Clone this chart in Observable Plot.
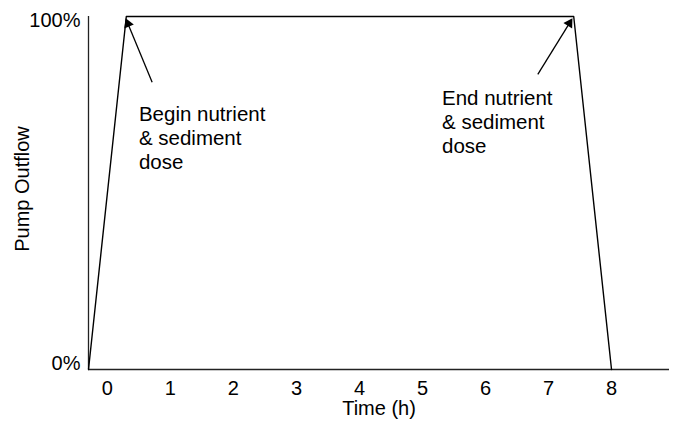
<!DOCTYPE html>
<html>
<head>
<meta charset="utf-8">
<script src="https://cdn.jsdelivr.net/npm/d3@7"></script>
<script src="https://cdn.jsdelivr.net/npm/@observablehq/plot@0.6"></script>
<style>
  html, body { margin: 0; padding: 0; background: #fff; }
  #chart { width: 675px; height: 432px; }
</style>
</head>
<body>
<div id="chart"></div>
<script>
// ---- data ----
const time = [-0.3, 0.3, 7.4, 8];          // hours
const outflow = [0, 100, 100, 0];          // % pump outflow
const xTicks = [0, 1, 2, 3, 4, 5, 6, 7, 8];
const yTicks = [0, 100];
const xDomain = [-0.3, 8.92];
const yDomain = [0, 100];

const noteText = ["Begin nutrient\n& sediment\ndose", "End nutrient\n& sediment\ndose"];
const noteX = [0.5, 5.31];
const noteY = [75.3, 79.9];
const arrowTailX = [0.71, 6.83];
const arrowTailY = [81.4, 83.6];
const arrowHeadX = [0.29, 7.38];
const arrowHeadY = [99.5, 99.5];

const xTitle = "Time (h)";
const yTitle = "Pump Outflow";

// ---- layout ----
const W = 675, H = 432;
const mL = 88, mR = 6, mT = 16, mB = 63;
const font = "Arial, 'Liberation Sans', Helvetica, sans-serif";
const headR = 3.8;

const line = time.map((t, i) => ({t, v: outflow[i]}));
const notes = noteText.map((s, i) => ({s, x: noteX[i], y: noteY[i]}));

// pixel-space helpers (same mapping Plot uses) to orient arrowheads
const px = d3.scaleLinear(xDomain, [mL, W - mR]);
const py = d3.scaleLinear(yDomain, [H - mB, mT]);
const arrows = arrowTailX.map((_, i) => {
  const tx = px(arrowTailX[i]), ty = py(arrowTailY[i]);
  const hx = px(arrowHeadX[i]), hy = py(arrowHeadY[i]);
  const len = Math.hypot(hx - tx, hy - ty);
  const ux = (hx - tx) / len, uy = (hy - ty) / len;
  const back = 2 * 0.7776 * headR; // tip distance from symbol centre
  return {
    x1: arrowTailX[i], y1: arrowTailY[i],
    x2: arrowHeadX[i], y2: arrowHeadY[i],
    cx: px.invert(hx - ux * back), cy: py.invert(hy - uy * back),
    angle: Math.atan2(ux, -uy) * 180 / Math.PI
  };
});

const chart = Plot.plot({
  width: W, height: H,
  marginLeft: mL, marginRight: mR, marginTop: mT, marginBottom: mB,
  style: {fontFamily: font, fontSize: "20px", color: "#000", background: "#fff", overflow: "visible"},
  x: {domain: xDomain},
  y: {domain: yDomain},
  marks: [
    Plot.ruleX([xDomain[0]], {y1: yDomain[0], y2: yDomain[1], stroke: "#222", strokeWidth: 1.3}),
    Plot.ruleY([0], {stroke: "#222", strokeWidth: 1.3}),
    Plot.axisX(xTicks, {tickSize: 0, tickPadding: 11, fontSize: 20, label: null}),
    Plot.axisY([yTicks[1]], {tickSize: 0, tickPadding: 8, fontSize: 20, label: null, dy: 4, tickFormat: d => d + "%"}),
    Plot.axisY([yTicks[0]], {tickSize: 0, tickPadding: 8, fontSize: 20, label: null, dy: -6, tickFormat: d => d + "%"}),
    Plot.line(line, {x: "t", y: "v", stroke: "#000", strokeWidth: 1.4}),
    Plot.link(arrows, {x1: "x1", y1: "y1", x2: "cx", y2: "cy", stroke: "#000", strokeWidth: 1.3}),
    Plot.dot(arrows, {x: "cx", y: "cy", symbol: "triangle", r: headR, rotate: "angle", fill: "#000", stroke: "none"}),
    Plot.text(notes, {x: "x", y: "y", text: "s", textAnchor: "start", lineAnchor: "top", lineHeight: 1.18, fontSize: 20.5, fill: "#000"}),
    Plot.text([xTitle], {frameAnchor: "bottom", dy: 39, textAnchor: "middle", lineAnchor: "middle", fontSize: 20, fill: "#000"}),
    Plot.text([yTitle], {frameAnchor: "left", dx: -66, dy: -4, rotate: -90, textAnchor: "middle", lineAnchor: "middle", fontSize: 20, fill: "#000"})
  ]
});
document.getElementById("chart").appendChild(chart);
</script>
</body>
</html>
